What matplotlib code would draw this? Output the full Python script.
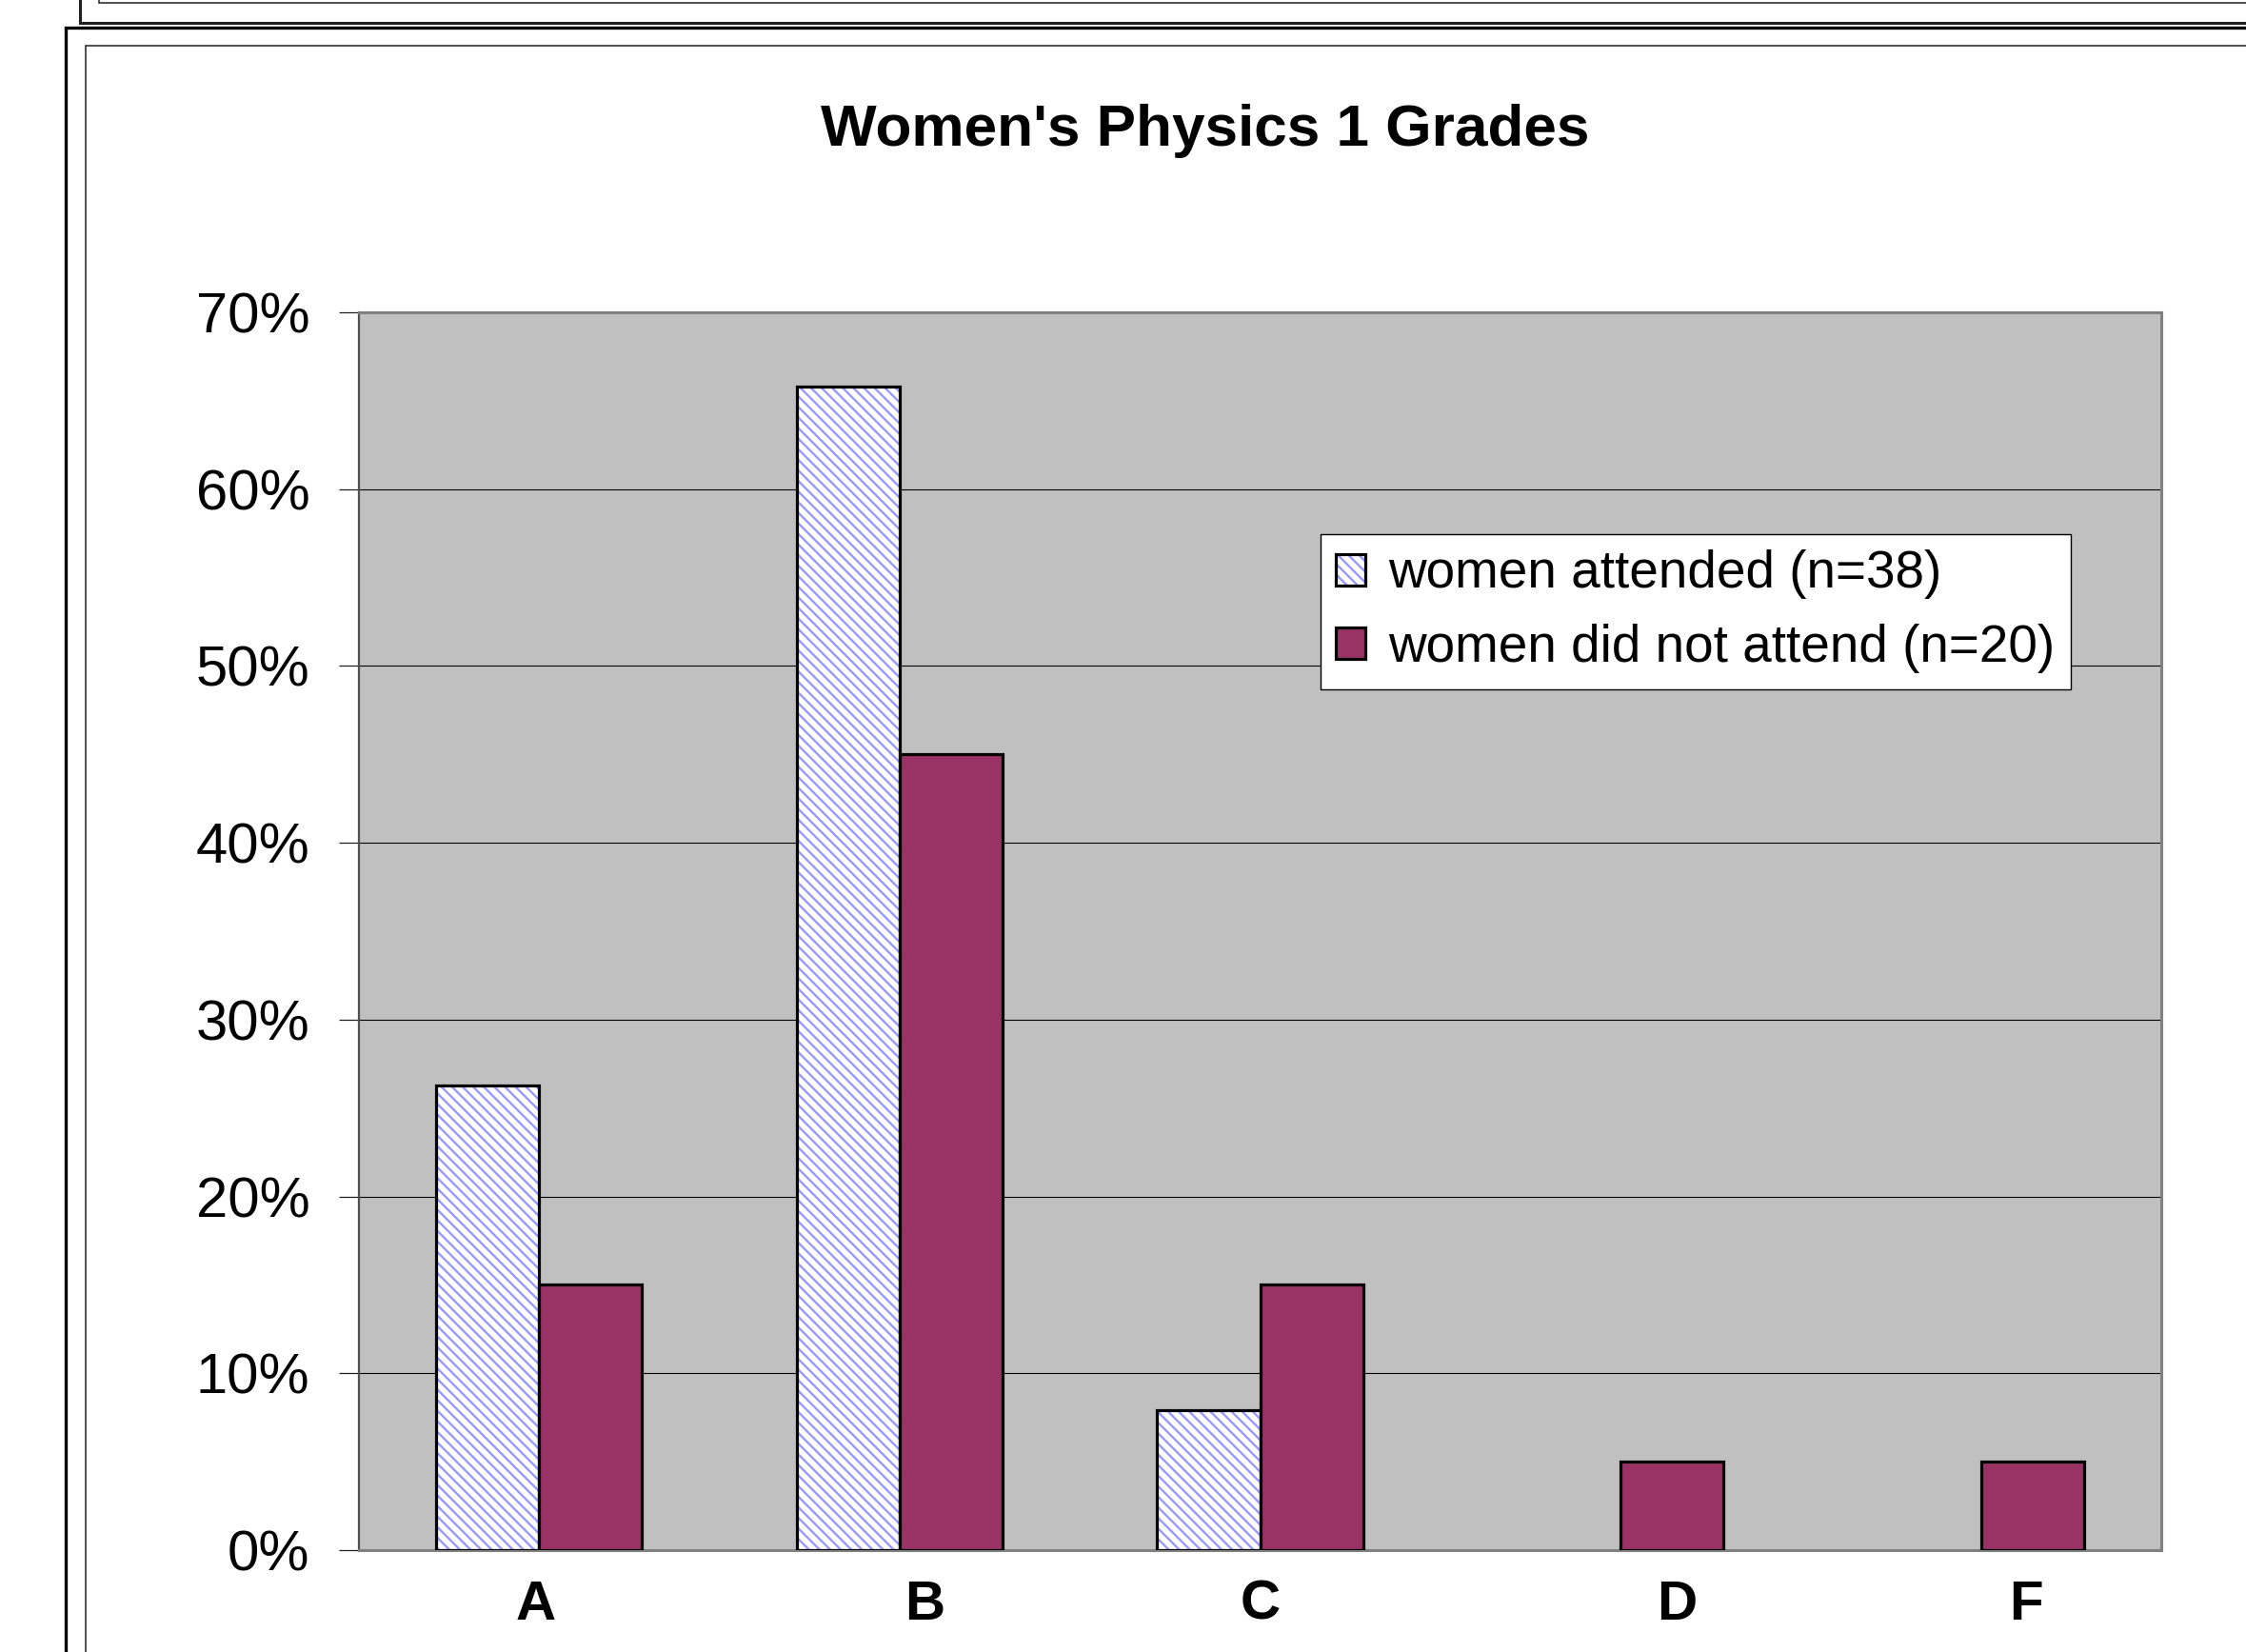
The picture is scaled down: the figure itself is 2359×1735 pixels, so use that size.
import matplotlib
matplotlib.use("Agg")
import matplotlib.pyplot as plt
from matplotlib.lines import Line2D
from matplotlib.patches import Rectangle
from matplotlib.legend_handler import HandlerTuple
from matplotlib.ticker import PercentFormatter
import numpy as np

# ---- data -------------------------------------------------------------
grades = ["A", "B", "C", "D", "F"]
attended = [0.263, 0.658, 0.079, 0.0, 0.0]        # women attended (n=38)
not_attended = [0.15, 0.45, 0.15, 0.05, 0.05]     # women did not attend (n=20)
series_labels = ["women attended (n=38)", "women did not attend (n=20)"]
title = "Women's Physics 1 Grades"
y_ticks = [0.0, 0.1, 0.2, 0.3, 0.4, 0.5, 0.6, 0.7]

# ---- style ------------------------------------------------------------
W, H = 2359, 1735
FONT = "Liberation Sans"
plt.rcParams["font.family"] = [FONT, "DejaVu Sans"]
plt.rcParams["hatch.linewidth"] = 1.7

HATCH = "\\\\\\"
HATCH_BLUE = "#9999FF"
PLUM = "#993366"
PLOT_GRAY = "#C0C0C0"
BORDER_GRAY = "#808080"
BAR_EDGE_LW = 2.3

fig = plt.figure(figsize=(W / 100, H / 100), dpi=100)
fig.patch.set_facecolor("white")


def fx(px):
    return px / W


def fy(py):
    return 1 - py / H


# page frames around the chart
def frame_line(xs, ys, lw, color="black"):
    fig.add_artist(Line2D([fx(v) for v in xs], [fy(v) for v in ys],
                          transform=fig.transFigure, lw=lw, color=color,
                          solid_joinstyle="miter", solid_capstyle="butt"))


# upper box (cut off by the top edge)
frame_line([84, 84, W + 5], [-5, 24, 24], 2.2, "#202020")
frame_line([104, 104, W + 5], [-5, 3.5, 3.5], 1.1, "#202020")
# chart box
frame_line([68.5, 68.5, W + 5], [H + 5, 29, 29], 2.4)
frame_line([89.5, 89.5, W + 5], [H + 5, 48, 48], 1.1, "#202020")

# ---- plot area --------------------------------------------------------
left, right, top, bottom = 377, 2270, 328, 1628
ax = fig.add_axes([fx(left), fy(bottom), fx(right - left), (bottom - top) / H])
ax.set_facecolor(PLOT_GRAY)

n = len(grades)
x = np.arange(n)
bw = 1 / 3.5  # Excel-style 150% gap width

# hatched series: hatch layer + black outline layer
hatch_bars = ax.bar(x - bw / 2, attended, bw, facecolor="white",
                    edgecolor=HATCH_BLUE, hatch=HATCH, linewidth=0, zorder=3)
outline_bars = ax.bar(x - bw / 2, attended, bw, fill=False,
                      edgecolor="black", linewidth=BAR_EDGE_LW, zorder=4)
for b, v in zip(outline_bars, attended):
    if v == 0:
        b.set_visible(False)
plum_bars = ax.bar(x + bw / 2, not_attended, bw, facecolor=PLUM,
                   edgecolor="black", linewidth=BAR_EDGE_LW, zorder=4)

ax.set_xlim(-0.5, n - 0.5)
ax.set_ylim(0, 0.70)
ax.set_yticks(y_ticks)
ax.yaxis.set_major_formatter(PercentFormatter(xmax=1, decimals=0))
ax.yaxis.grid(True, color="black", linewidth=0.8)
ax.set_axisbelow(True)

ax.tick_params(axis="y", direction="out", length=15, width=0.9,
               color="#202020", pad=22, labelsize=43, labelcolor="black")

# category labels, nudged the way the original axis places them
label_nudge = [-0.01, 0.07, 0.0, 0.155, 0.125]
ax.set_xticks(x + np.array(label_nudge))
ax.set_xticklabels(grades, fontsize=42, fontweight="bold")
ax.tick_params(axis="x", length=0, pad=22)

for side in ("top", "right", "bottom"):
    ax.spines[side].set_color(BORDER_GRAY)
    ax.spines[side].set_linewidth(2.2)
ax.spines["left"].set_color("#505050")
ax.spines["left"].set_linewidth(1.6)

# ---- title ------------------------------------------------------------
fig.text(fx(1266), fy(153), title, ha="center", va="baseline",
         fontsize=44.7, fontweight="bold", color="black")

# ---- legend -----------------------------------------------------------
h_hatch = Rectangle((0, 0), 1, 1, facecolor="white", edgecolor=HATCH_BLUE,
                    hatch=HATCH, linewidth=0)
h_outline = Rectangle((0, 0), 1, 1, fill=False, edgecolor="black",
                      linewidth=BAR_EDGE_LW)
h_plum = Rectangle((0, 0), 1, 1, facecolor=PLUM, edgecolor="black",
                   linewidth=BAR_EDGE_LW)

leg = ax.legend(handles=[(h_hatch, h_outline), h_plum], labels=series_labels,
                handler_map={tuple: HandlerTuple(ndivide=1, pad=0)},
                loc="upper left", bbox_to_anchor=(fx(1387), fy(561)),
                bbox_transform=fig.transFigure, borderaxespad=0,
                frameon=True, fancybox=False, shadow=False, framealpha=1,
                edgecolor="black", facecolor="white",
                prop={"family": [FONT, "DejaVu Sans"], "size": 39.5},
                handlelength=0.55, handleheight=0.55, handletextpad=0.45,
                labelspacing=0.47, borderpad=0.3)
leg.get_frame().set_linewidth(1.0)
leg.set_zorder(10)

fig.savefig("out.png", dpi=100, facecolor="white")
